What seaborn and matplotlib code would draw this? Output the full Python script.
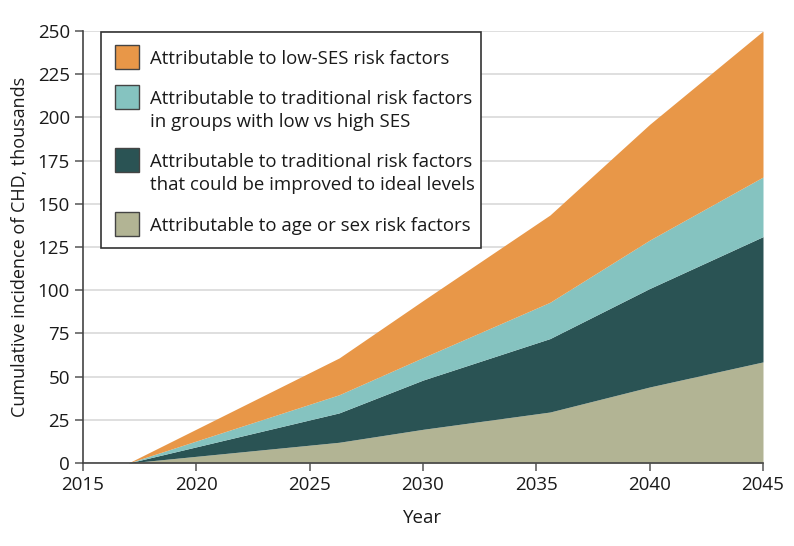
import matplotlib
matplotlib.use("Agg")
import matplotlib.pyplot as plt
from matplotlib.patches import Rectangle
import seaborn as sns
import numpy as np

# values (thousands, per layer, not cumulative)
years = [2017, 2026.3, 2030, 2035.6, 2040, 2045]
age_sex = [0, 12, 19.5, 29.5, 44, 58.5]
trad_ideal = [0, 17, 28.5, 42.5, 57, 72.5]
trad_ses = [0, 10.5, 13, 21, 28, 34.5]
low_ses = [0, 21.3, 33, 50.5, 67, 84.5]

labels = [
    "Attributable to age or sex risk factors",
    "Attributable to traditional risk factors\nthat could be improved to ideal levels",
    "Attributable to traditional risk factors\nin groups with low vs high SES",
    "Attributable to low-SES risk factors",
]
colors = ["#B2B494", "#2A5354", "#85C3C0", "#E89748"]

W, H = 794, 546
sns.set_theme(style="white")
plt.rcParams["font.family"] = ["Open Sans", "DejaVu Sans"]

fig = plt.figure(figsize=(W / 100, H / 100), dpi=100)
ax = fig.add_axes([83 / W, 1 - 463 / H, 680 / W, 432 / H])

ax.stackplot(years, age_sex, trad_ideal, trad_ses, low_ses,
             colors=colors, linewidth=0, zorder=2)

ax.set_xlim(2015, 2045)
ax.set_ylim(0, 250)
ax.set_xticks(np.arange(2015, 2046, 5))
ax.set_yticks(np.arange(0, 251, 25))
ax.yaxis.grid(True, color="#D9D9D9", linewidth=1.2, zorder=0)
ax.set_axisbelow(True)
sns.despine(ax=ax)
for s in ["left", "bottom"]:
    ax.spines[s].set_color("#444444")
    ax.spines[s].set_linewidth(1.2)
ax.tick_params(axis="both", which="major", length=6, width=1.1, color="#555555",
               labelsize=13.5, labelcolor="#1a1a1a", bottom=True, left=True)

ax.set_xlabel("Year", fontsize=13.5, color="#1a1a1a", labelpad=11)
ax.set_ylabel("Cumulative incidence of CHD, thousands", fontsize=13,
              color="#1a1a1a", labelpad=6)


# legend drawn by hand so the swatches sit level with the first text line
def px(x, y):
    return x / W, 1 - y / H


tf = fig.transFigure
x0, y0 = px(101, 32)
x1, y1 = px(481, 248)
fig.patches.append(Rectangle((x0, y1), x1 - x0, y0 - y1, transform=tf,
                             facecolor="white", edgecolor="#333333", linewidth=1.2, zorder=5))
row_top = [45, 85, 148, 212]
for i, (lab, col) in enumerate(zip(labels[::-1], colors[::-1])):
    top = row_top[i]
    hx, hy = px(115, top + 24)
    fig.patches.append(Rectangle((hx, hy), 24 / W, 24 / H, transform=tf,
                                 facecolor=col, edgecolor="#444444", linewidth=1.0, zorder=6))
    for j, line in enumerate(lab.split("\n")):
        tx, ty = px(150, top + 19 + 23 * j)
        fig.text(tx, ty, line, fontsize=13.4, color="#1a1a1a", va="baseline", ha="left", zorder=7)

fig.savefig("out.png", dpi=100)
